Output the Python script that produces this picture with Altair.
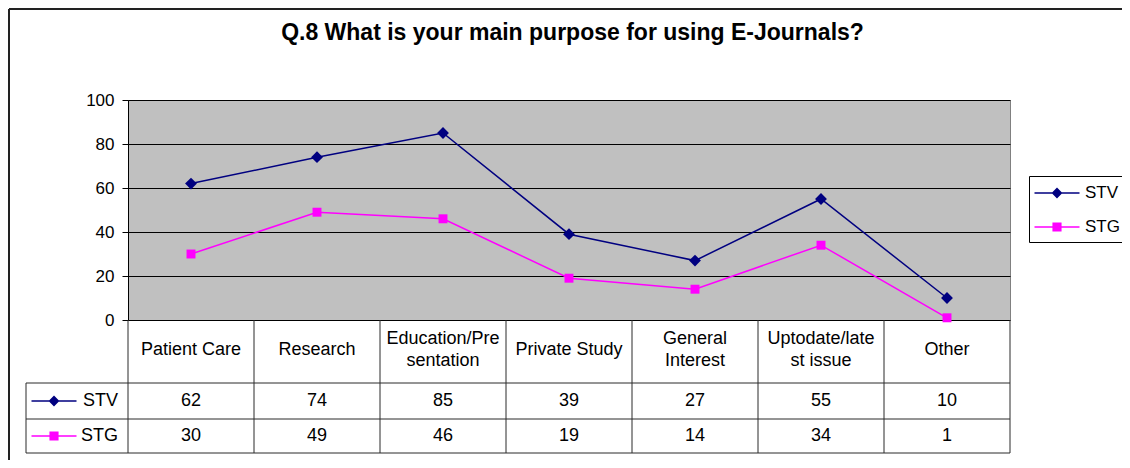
import altair as alt
import pandas as pd

# ---------------- data ----------------
title_text = "Q.8 What is your main purpose for using E-Journals?"
categories = ["Patient Care", "Research", "Education/Presentation", "Private Study",
              "General Interest", "Uptodate/latest issue", "Other"]
header_labels = ["Patient Care", "Research", "Education/Pre\nsentation", "Private Study",
                 "General\nInterest", "Uptodate/late\nst issue", "Other"]
series_names = ["STV", "STG"]
stv = [62, 74, 85, 39, 27, 55, 10]
stg = [30, 49, 46, 19, 14, 34, 1]
y_ticks = [0, 20, 40, 60, 80, 100]

# ---------------- styling / layout ----------------
FONT = "Liberation Sans"
COLORS = ["#000080", "#FF00FF"]
GRID = "#000000"
TABLE_LINE = "#2a2a2a"
TEXT_SIZE = 18
LINE_H = 22

PLOT_LEFT, PLOT_TOP, ZERO_Y = 128, 100, 320     # page pixels
CELL = 126
PLOT_W = CELL * len(categories)
PLOT_H = ZERO_Y - PLOT_TOP
PX = PLOT_H / 100.0
PAGE_W, PAGE_H = 1130, 468
SVG_W, SVG_H = PAGE_W - 16, PAGE_H - 16


def dx(page_x):
    return (page_x - PLOT_LEFT) / CELL


def dy(page_y):
    return (ZERO_Y - page_y) / PX


TABLE_LEFT = 26
HEADER_BOTTOM, STV_BOTTOM, STG_BOTTOM = 383, 419, 453
row_mid = {"STV": (HEADER_BOTTOM + STV_BOTTOM) / 2, "STG": (STV_BOTTOM + STG_BOTTOM) / 2}
header_mid = (ZERO_Y + HEADER_BOTTOM) / 2 - 2
legend_mid = {"STV": 193, "STG": 227}

# symbol = line segment + marker, as custom paths (unit = sqrt(size)/2 px)
SYM_SIZE = 576  # -> 12 px per unit
sym_paths = [
    "M-1.875,-0.06H1.875V0.06H-1.875Z M0,-0.45L0.45,0L0,0.45L-0.45,0Z",
    "M-1.875,-0.06H1.875V0.06H-1.875Z M-0.38,-0.38H0.38V0.38H-0.38Z",
]

# ---------------- tables ----------------
long_rows = []
for i, c in enumerate(categories):
    for s, vals in zip(series_names, [stv, stg]):
        long_rows.append({"category": c, "xc": i + 0.5, "series": s, "value": vals[i],
                          "row_y": dy(row_mid[s])})
df = pd.DataFrame(long_rows)

header_df = pd.DataFrame({
    "xc": [i + 0.5 for i in range(len(categories))],
    "label": header_labels,
    "y": [dy(header_mid - (lab.count("\n")) * LINE_H / 2) for lab in header_labels],
})

# key entries: one in the data table's left column, one in the legend box
key_rows = []
for s in series_names:
    key_rows.append({"series": s, "lx": dx(118), "sx": dx(54), "y": dy(row_mid[s]), "where": "table"})
    key_rows.append({"series": s, "lx": dx(1085), "sx": dx(1057), "y": dy(legend_mid[s]), "where": "legend"})
key_df = pd.DataFrame(key_rows)

rule_rows = []
for yb in [HEADER_BOTTOM, STV_BOTTOM, STG_BOTTOM]:
    rule_rows.append({"x": dx(TABLE_LEFT), "x2": len(categories), "y": dy(yb), "y2": dy(yb)})
for i in range(len(categories) + 1):
    rule_rows.append({"x": i, "x2": i, "y": 0, "y2": dy(STG_BOTTOM)})
rule_rows.append({"x": dx(TABLE_LEFT), "x2": dx(TABLE_LEFT), "y": dy(HEADER_BOTTOM), "y2": dy(STG_BOTTOM)})
rules_df = pd.DataFrame(rule_rows)

title_df = pd.DataFrame({"t": [title_text], "x": [dx(572.5)], "y": [dy(40)]})
frame_df = pd.DataFrame({"x": [dx(9), dx(9)], "x2": [dx(PAGE_W + 60), dx(9)],
                         "y": [dy(9), dy(9)], "y2": [dy(9), dy(PAGE_H + 60)]})
legend_box_df = pd.DataFrame({"x": [dx(1029.5)], "x2": [dx(PAGE_W + 60)],
                              "y": [dy(176.5)], "y2": [dy(242.5)]})

# ---------------- scales ----------------
xs = alt.Scale(domain=[0, len(categories)], nice=False, zero=False)
ys = alt.Scale(domain=[0, 100], nice=False, zero=False)
cs = alt.Scale(domain=series_names, range=COLORS)
ss = alt.Scale(domain=series_names, range=sym_paths)

yaxis = alt.Axis(values=y_ticks, grid=True, gridColor=GRID, gridOpacity=1, gridWidth=1,
                 domainColor="#000000", tickColor="#000000", tickSize=6, labelPadding=8,
                 labelFont=FONT, labelFontSize=17, labelColor="#000000", title=None)


def X(field):
    return alt.X(field, scale=xs, axis=None)


def Y(field):
    return alt.Y(field, scale=ys, axis=yaxis)


line = alt.Chart(df).mark_line(strokeWidth=1.5, clip=False).encode(
    x=X("xc:Q"), y=Y("value:Q"),
    stroke=alt.Stroke("series:N", scale=cs, legend=None),
)

points = alt.Chart(df).mark_point(filled=True, opacity=1, strokeWidth=0, clip=False).encode(
    x=X("xc:Q"), y=Y("value:Q"),
    fill=alt.Fill("series:N", scale=cs, legend=None),
    shape=alt.condition("datum.series === 'STV'", alt.value("diamond"), alt.value("square")),
    size=alt.condition("datum.series === 'STV'", alt.value(140), alt.value(80)),
)

rules = alt.Chart(rules_df).mark_rule(color=TABLE_LINE, strokeWidth=1, clip=False).encode(
    x=X("x:Q"), x2="x2:Q", y=Y("y:Q"), y2="y2:Q",
)

frame = alt.Chart(frame_df).mark_rule(color="#222222", strokeWidth=2, clip=False).encode(
    x=X("x:Q"), x2="x2:Q", y=Y("y:Q"), y2="y2:Q",
)

legend_box = alt.Chart(legend_box_df).mark_rect(fill="#FFFFFF", stroke="#000000", strokeWidth=1,
                                                clip=False).encode(
    x=X("x:Q"), x2="x2:Q", y=Y("y:Q"), y2="y2:Q",
)

header = alt.Chart(header_df).mark_text(font=FONT, fontSize=TEXT_SIZE, color="#000000", align="center",
                                        baseline="middle", lineBreak="\n", lineHeight=LINE_H,
                                        clip=False).encode(
    x=X("xc:Q"), y=Y("y:Q"), text="label:N",
)

values = alt.Chart(df).mark_text(font=FONT, fontSize=TEXT_SIZE, color="#000000", align="center",
                                 baseline="middle", clip=False).encode(
    x=X("xc:Q"), y=Y("row_y:Q"), text=alt.Text("value:Q"),
)

table_key_labels = alt.Chart(key_df).transform_filter("datum.where === 'table'").mark_text(
    font=FONT, fontSize=TEXT_SIZE, color="#000000", align="right", baseline="middle", clip=False
).encode(x=X("lx:Q"), y=Y("y:Q"), text="series:N")

legend_labels = alt.Chart(key_df).transform_filter("datum.where === 'legend'").mark_text(
    font=FONT, fontSize=17, color="#000000", align="left", baseline="middle", clip=False
).encode(x=X("lx:Q"), y=Y("y:Q"), text="series:N")

key_symbols = alt.Chart(key_df).mark_point(filled=True, opacity=1, size=SYM_SIZE, strokeWidth=0,
                                           clip=False).encode(
    x=X("sx:Q"), y=Y("y:Q"),
    fill=alt.Fill("series:N", scale=cs, legend=None),
    shape=alt.Shape("series:N", scale=ss, legend=None),
)

title = alt.Chart(title_df).mark_text(font=FONT, fontSize=23, fontWeight="bold", color="#000000",
                                      align="center", baseline="alphabetic", clip=False).encode(
    x=X("x:Q"), y=Y("y:Q"), text="t:N",
)

chart = alt.layer(frame, rules, legend_box, line, points, header, values,
                  table_key_labels, legend_labels, key_symbols, title).properties(
    width=PLOT_W, height=PLOT_H,
    padding={"left": PLOT_LEFT - 8, "top": PLOT_TOP - 8,
             "right": SVG_W - (PLOT_LEFT - 8) - PLOT_W,
             "bottom": SVG_H - (PLOT_TOP - 8) - PLOT_H},
    autosize=alt.AutoSizeParams(type="none"),
    background="#FFFFFF",
).configure_view(fill="#C0C0C0", stroke="#808080", strokeWidth=1)

chart.save("out.html", embed_options={"renderer": "svg", "actions": False})
